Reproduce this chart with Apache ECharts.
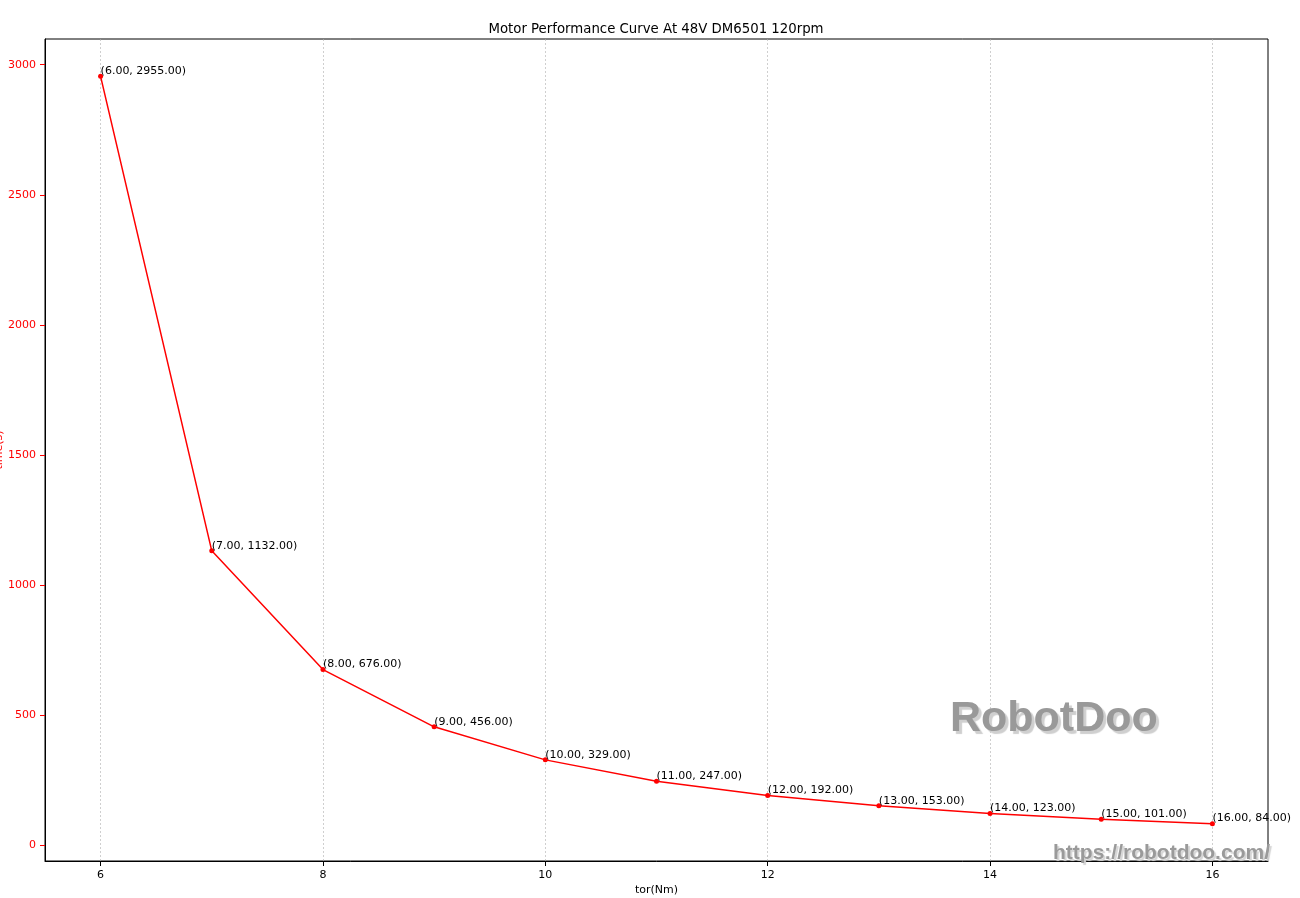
<!DOCTYPE html>
<html>
<head>
<meta charset="utf-8">
<script src="https://cdn.jsdelivr.net/npm/echarts@6/dist/echarts.min.js"></script>
<style>
html,body{margin:0;padding:0;background:#fff;}
#chart{width:1300px;height:898px;}
</style>
</head>
<body>
<div id="chart"></div>
<script>
const torque = [6, 7, 8, 9, 10, 11, 12, 13, 14, 15, 16];
const timeS = [2955, 1132, 676, 456, 329, 247, 192, 153, 123, 101, 84];
const xTicks = [6, 8, 10, 12, 14, 16];
const yTicks = [0, 500, 1000, 1500, 2000, 2500, 3000];
const titleText = 'Motor Performance Curve At 48V DM6501 120rpm';
const xName = 'tor(Nm)';
const yName = 'time(s)';

const FONT = '"DejaVu Sans", sans-serif';
const chart = echarts.init(document.getElementById('chart'), null, {renderer: 'canvas'});
const points = torque.map((x, i) => [x, timeS[i]]);

chart.setOption({
  animation: false,
  backgroundColor: '#ffffff',
  title: {
    text: titleText,
    left: 651, top: 18, textAlign: 'center',
    textStyle: {fontFamily: FONT, fontSize: 13.3, fontWeight: 'normal', color: '#000'}
  },
  grid: {
    left: 45, right: 32, top: 39, bottom: 37,
    containLabel: false, outerBoundsMode: 'none',
    show: true, borderColor: '#000', borderWidth: 1, backgroundColor: 'transparent'
  },
  xAxis: {
    type: 'value', min: 5.5, max: 16.5,
    name: xName, nameLocation: 'middle', nameGap: 24, nameMoveOverlap: false,
    nameTextStyle: {fontFamily: FONT, fontSize: 11, color: '#000'},
    axisLine: {show: true, onZero: false, lineStyle: {color: '#000', width: 1}},
    axisTick: {show: true, length: 5, customValues: xTicks, lineStyle: {color: '#000'}},
    axisLabel: {customValues: xTicks, fontFamily: FONT, fontSize: 11, color: '#000', margin: 9,
      formatter: v => String(v)},
    splitLine: {show: true, lineStyle: {color: '#b0b0b0', width: 0.6, type: [2, 2]}}
  },
  yAxis: {
    type: 'value', min: -59.55, max: 3098.55,
    name: yName, nameLocation: 'middle', nameGap: 40, nameRotate: 90, nameMoveOverlap: false,
    nameTextStyle: {fontFamily: FONT, fontSize: 11, color: 'red'},
    axisLine: {show: true, onZero: false, lineStyle: {color: '#000', width: 1}},
    axisTick: {show: true, length: 5, customValues: yTicks, lineStyle: {color: 'red'}},
    axisLabel: {customValues: yTicks, fontFamily: FONT, fontSize: 11, color: 'red', margin: 9,
      formatter: v => String(v)},
    splitLine: {show: false}
  },
  series: [{
    type: 'line',
    data: points,
    symbol: 'circle', symbolSize: 5,
    lineStyle: {color: 'red', width: 1.5},
    itemStyle: {color: 'red'},
    label: {
      show: true, position: 'top', align: 'left', verticalAlign: 'bottom', distance: -3,
      fontFamily: FONT, fontSize: 11, color: '#000',
      formatter: p => '(' + p.value[0].toFixed(2) + ', ' + p.value[1].toFixed(2) + ')'
    },
    labelLayout: {hideOverlap: false}
  }],
  graphic: [
    {
      type: 'text', left: 950, top: 698, z: 10,
      style: {
        text: 'RobotDoo', fill: '#999999',
        font: 'bold 43px "Liberation Sans", Arial, sans-serif',
        textShadowColor: '#cfcfcf', textShadowOffsetX: 3, textShadowOffsetY: 3, textShadowBlur: 1
      }
    },
    {
      type: 'text', left: 1053, top: 843, z: 10,
      style: {
        text: 'https://robotdoo.com/', fill: '#9a9a9a',
        font: 'bold 21px "Liberation Sans", Arial, sans-serif',
        textShadowColor: '#d5d5d5', textShadowOffsetX: 2, textShadowOffsetY: 2, textShadowBlur: 1
      }
    }
  ]
});
</script>
</body>
</html>
